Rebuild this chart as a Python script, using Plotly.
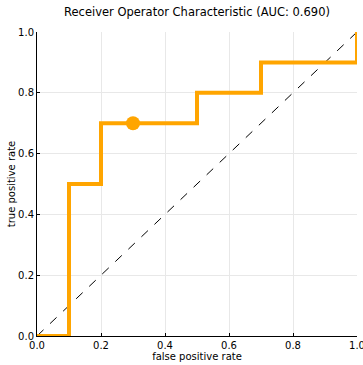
import plotly.graph_objects as go

fpr = [0.0, 0.1, 0.1, 0.2, 0.2, 0.5, 0.5, 0.7, 0.7, 1.0, 1.0]
tpr = [0.0, 0.0, 0.5, 0.5, 0.7, 0.7, 0.8, 0.8, 0.9, 0.9, 1.0]
diag_x = [0.0, 1.0]
diag_y = [0.0, 1.0]
point_x = [0.3]
point_y = [0.7]
ticks = [0.0, 0.2, 0.4, 0.6, 0.8, 1.0]
tick_labels = ["0.0", "0.2", "0.4", "0.6", "0.8", "1.0"]
auc = 0.690

fig = go.Figure()
fig.add_trace(go.Scatter(x=diag_x, y=diag_y, mode="lines",
                         line=dict(color="black", width=1, dash="dash"),
                         cliponaxis=False, showlegend=False))
fig.add_trace(go.Scatter(x=fpr, y=tpr, mode="lines",
                         line=dict(color="#FFA500", width=4),
                         cliponaxis=False, showlegend=False))
fig.add_trace(go.Scatter(x=point_x, y=point_y, mode="markers",
                         marker=dict(color="#FFA500", size=14, line=dict(width=0)),
                         cliponaxis=False, showlegend=False))

axis_common = dict(range=[0, 1], tickvals=ticks, ticktext=tick_labels,
                   showgrid=True, gridcolor="#e8e8e8", gridwidth=1,
                   zeroline=False, showline=True, linecolor="black", linewidth=1,
                   ticks="inside", ticklen=3, tickcolor="black", automargin=False,
                   ticklabeloverflow="allow",
                   tickfont=dict(size=10, color="black", family="DejaVu Sans"))

fig.update_layout(
    width=363, height=365,
    margin=dict(l=37, r=6, t=32, b=29, autoexpand=False),
    paper_bgcolor="white", plot_bgcolor="white",
    title=dict(text=f"Receiver Operator Characteristic (AUC: {auc:.3f})",
               x=(37 + 357) / 2 / 363, xanchor="center", y=1 - 12 / 365, yanchor="middle",
               font=dict(size=11.5, family="DejaVu Sans", color="black")),
    xaxis=dict(**axis_common, title=dict(text="false positive rate", standoff=2,
                                         font=dict(size=10, family="DejaVu Sans", color="black"))),
    yaxis=dict(**axis_common, title=dict(text="true positive rate", standoff=0,
                                         font=dict(size=10, family="DejaVu Sans", color="black"))),
)

fig.write_html("out.html", config={"displayModeBar": False},
               post_script="document.body.style.margin='0';document.body.style.overflow='hidden';")
